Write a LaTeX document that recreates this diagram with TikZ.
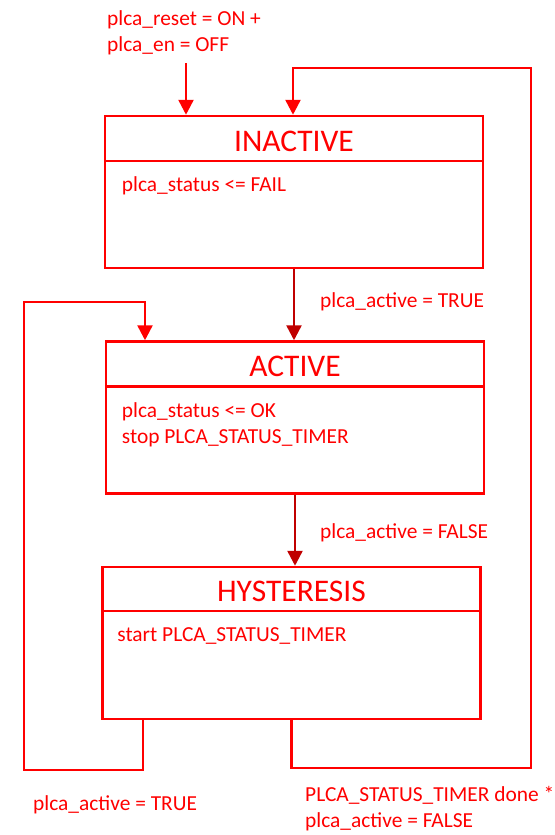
\documentclass[tikz,border=0pt]{standalone}
\usepackage{fontspec}
\setmainfont{Carlito}
\usepackage{tikz}
\usetikzlibrary{positioning,arrows.meta}
\definecolor{plcared}{HTML}{FF0000}
\definecolor{plcadark}{HTML}{C00000}

\begin{document}
\begin{tikzpicture}[
  x=1pt, y=-1pt,
  state/.style={draw=plcared, line width=2.5pt, minimum width=378pt, minimum height=152pt, inner sep=0pt},
  title/.style={text=plcared, font=\fontsize{31.5}{36}\selectfont, anchor=base, inner sep=0pt},
  body/.style={text=plcared, font=\fontsize{21.4}{26}\selectfont, align=left, anchor=base west, inner sep=0pt},
  cond/.style={text=plcared, font=\fontsize{21.4}{26}\selectfont, align=left, anchor=base west, inner sep=0pt},
  arr/.style={-{Triangle[length=15pt, width=15pt]}, line width=2.5pt, draw=plcared},
  darr/.style={arr, draw=plcadark}
]
\useasboundingbox (0,0) rectangle (554,835);

% states
\node[state] (inactive) at (294,192) {};
\node[state] (active) at (295,417.5) {};
\node[state] (hyst) at (291.5,643) {};

\draw[plcared, line width=2.5pt] ([yshift=-46pt]inactive.north west) -- ([yshift=-46pt]inactive.north east);
\draw[plcared, line width=2.5pt] ([yshift=-46pt]active.north west) -- ([yshift=-46pt]active.north east);
\draw[plcared, line width=2.5pt] ([yshift=-45pt]hyst.north west) -- ([yshift=-45pt]hyst.north east);

\node[title] (inactive-title) at ([yshift=-36.5pt]inactive.north) {INACTIVE};
\node[title] (active-title) at ([yshift=-36.5pt]active.north) {ACTIVE};
\node[title] (hyst-title) at ([yshift=-35.5pt]hyst.north) {HYSTERESIS};

\node[body] (inactive-body) at ([xshift=18pt, yshift=-77pt]inactive.north west) {plca\_status <= FAIL};
\node[body, anchor=north west] (active-body) at ([xshift=17pt, yshift=-62pt]active.north west) {plca\_status <= OK\\stop PLCA\_STATUS\_TIMER};
\node[body] (hyst-body) at ([xshift=16pt, yshift=-76pt]hyst.north west) {start PLCA\_STATUS\_TIMER};

% conditions
\node[cond, anchor=north west] (reset-cond) at (107,10) {plca\_reset = ON +\\plca\_en = OFF};
\node[cond] (true-cond) at (320,307) {plca\_active = TRUE};
\node[cond] (false-cond) at (320,538) {plca\_active = FALSE};
\node[cond] (back-cond) at (33,810) {plca\_active = TRUE};
\node[cond, anchor=north west] (done-cond) at (305,786) {PLCA\_STATUS\_TIMER done *\\plca\_active = FALSE};

% transitions
\coordinate (start) at (186,63);
\coordinate (lbot) at (24,770);
\coordinate (ltop) at (24,302);
\coordinate (rbot) at (531,768);
\coordinate (rtop) at (531,68);
\draw[arr] (start) -- (start |- inactive.north);
\draw[darr] (inactive.south) -- (inactive.south |- active.north);
\draw[darr] (active.south) -- (active.south |- hyst.north);
\draw[arr] ([xshift=-148.5pt]hyst.south) |- (lbot) -- (ltop) -| ([xshift=-150pt]active.north);
\draw[arr] (hyst.south) |- (rbot) -- (rtop) -| ([xshift=-1pt]inactive.north);
\end{tikzpicture}
\end{document}
